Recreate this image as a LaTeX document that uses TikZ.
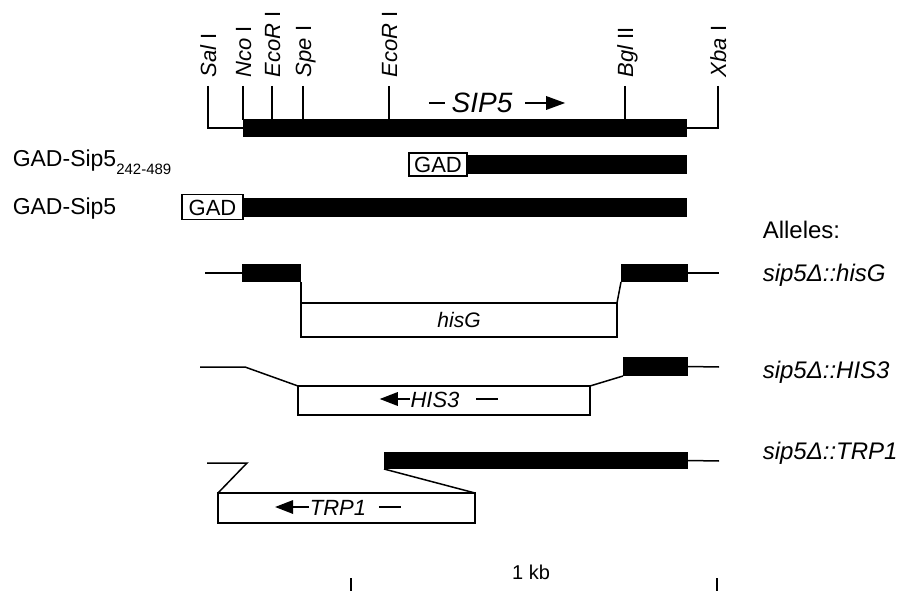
\documentclass[tikz,border=0pt]{standalone}
\usepackage{fontspec}
\setmainfont{Liberation Sans}
\usetikzlibrary{arrows.meta}
\newcommand{\fsz}[1]{\fontsize{#1}{#1}\selectfont}
\begin{document}
\begin{tikzpicture}[x=1pt,y=-1pt,line width=1.5pt,
  bar/.style={fill=black,draw=none,inner sep=0pt,outer sep=0pt,rectangle},
  gbox/.style={draw=black,fill=white,line width=1.5pt,inner sep=0pt,outer sep=0pt,font=\fsz{22},text height=16pt,text depth=0pt},
  cbox/.style={draw=black,fill=white,line width=1.5pt,inner sep=0pt,outer sep=0pt,font=\fsz{21}\itshape,text height=15pt,text depth=0pt},
  enz/.style={rotate=90,anchor=west,inner sep=0pt,font=\fsz{22},text height=16pt,text depth=0pt},
  lab/.style={anchor=base west,inner sep=0pt,font=\fsz{23}},
  allele/.style={anchor=base west,inner sep=0pt,font=\fsz{24}\itshape},
  intext/.style={inner sep=0pt,font=\fsz{22}\itshape,text height=16pt,text depth=0pt},
  head/.style={fill=black,draw=none},
  shaft/.style={line width=2pt},
]
\useasboundingbox (0,0) rectangle (902,591);

% ---- map of SIP5 ----
\node[bar,minimum width=444pt,minimum height=18pt] (main) at (465,128) {};
\node[enz] (sal) at (208,78) {{\itshape Sal} I};
\node[enz] (nco) at (243,78) {{\itshape Nco} I};
\node[enz] (ecoa) at (272,78) {{\itshape EcoR} I};
\node[enz] (spe) at (303,78) {{\itshape Spe} I};
\node[enz] (ecob) at (389,78) {{\itshape EcoR} I};
\node[enz] (bgl) at (625,78) {{\itshape Bgl} II};
\node[enz] (xba) at (718,78) {{\itshape Xba} I};
\draw (208,86) |- (main.west);
\draw (718,86) |- (main.east);
\draw (243,86) -- (243,120);
\draw (272,86) -- (272,120);
\draw (303,86) -- (303,120);
\draw (389,86) -- (389,120);
\draw (625,86) -- (625,120);

\node[inner sep=0pt,font=\fsz{28}\itshape,text height=20pt,text depth=0pt] (sip) at (482,103) {SIP5};
\draw[shaft] ([xshift=-22pt]sip.west) -- ([xshift=-6pt]sip.west);
\draw[shaft] ([xshift=12pt]sip.east) -- ([xshift=36pt]sip.east);
\fill[head] ([xshift=52pt]sip.east) -- ++(-19,-7) -- ++(0,14) -- cycle;

% ---- GAD fusions ----
\node[lab] (l1) at (12,167) {GAD-Sip5\raisebox{-8pt}{\fsz{15}242-489}};
\node[gbox,minimum width=58pt,minimum height=23pt] (gad1) at (438,164.5) {GAD};
\node[bar,anchor=west,minimum width=220pt,minimum height=19pt] (bar1) at (gad1.east) {};

\node[lab] (l2) at (12,214) {GAD-Sip5};
\node[gbox,minimum width=61pt,minimum height=25pt] (gad2) at (212.5,207) {GAD};
\node[bar,anchor=west,minimum width=444pt,minimum height=19pt] (bar2) at (gad2.east) {};

% ---- alleles ----
\node[lab,font=\fsz{24}] (al) at (762,238) {Alleles:};
\node[allele] (a1) at (762,281) {sip5Δ::hisG};
\node[allele] (a2) at (762,378) {sip5Δ::HIS3};
\node[allele] (a3) at (762,459) {sip5Δ::TRP1};

% hisG
\node[bar,minimum width=59pt,minimum height=18pt] (h1) at (271.5,273) {};
\node[bar,minimum width=67pt,minimum height=18pt] (h2) at (654.5,273) {};
\node[cbox,minimum width=316pt,minimum height=34pt] (hbox) at (459,320) {hisG};
\coordinate (hL) at (205,273);
\coordinate (hR) at (719,273);
\draw (hL) -- (h1.west);
\draw (h1.south east) -- (hbox.north west);
\draw (hbox.north east) -- (h2.south west);
\draw (h2.east) -- (hR);

% HIS3
\node[cbox,minimum width=292pt,minimum height=29pt] (sbox) at (444,400.5) {};
\node[bar,minimum width=65pt,minimum height=19pt] (s2) at (655.5,366.5) {};
\coordinate (sL) at (200,367);
\coordinate (sK) at (245,367);
\coordinate (sR) at (719,367);
\draw (sL) -- (sK) -- (sbox.north west);
\draw (sbox.north east) -- (s2.south west);
\draw (s2.east) -- (sR);
\node[intext] (st) at (435,399) {HIS3};
\draw[shaft] (st.west) -- ([xshift=-14pt]st.west);
\fill[head] ([xshift=-30pt]st.west) -- ++(18,-7) -- ++(0,14) -- cycle;
\draw[shaft] ([xshift=16pt]st.east) -- ([xshift=38pt]st.east);

% TRP1
\node[cbox,minimum width=257pt,minimum height=30pt] (tbox) at (346.5,508) {};
\node[bar,minimum width=304pt,minimum height=17pt] (t2) at (536,460.5) {};
\coordinate (tL) at (207,463);
\coordinate (tK) at (247,463);
\coordinate (tR) at (719,461);
\draw (tL) -- (tK) -- (tbox.north west);
\draw (t2.south west) -- (tbox.north east);
\draw (t2.east) -- (tR);
\node[intext] (tt) at (338,507) {TRP1};
\draw[shaft] (tt.west) -- ([xshift=-18pt]tt.west);
\fill[head] ([xshift=-34pt]tt.west) -- ++(18,-7) -- ++(0,14) -- cycle;
\draw[shaft] ([xshift=12pt]tt.east) -- ([xshift=34pt]tt.east);

% ---- scale ----
\node[inner sep=0pt,font=\fsz{20}] (kb) at (531,572) {1 kb};
\coordinate (k1) at (351,578);
\coordinate (k2) at (717,578);
\draw (k1) -- ++(0,13);
\draw (k2) -- ++(0,13);
\end{tikzpicture}
\end{document}
